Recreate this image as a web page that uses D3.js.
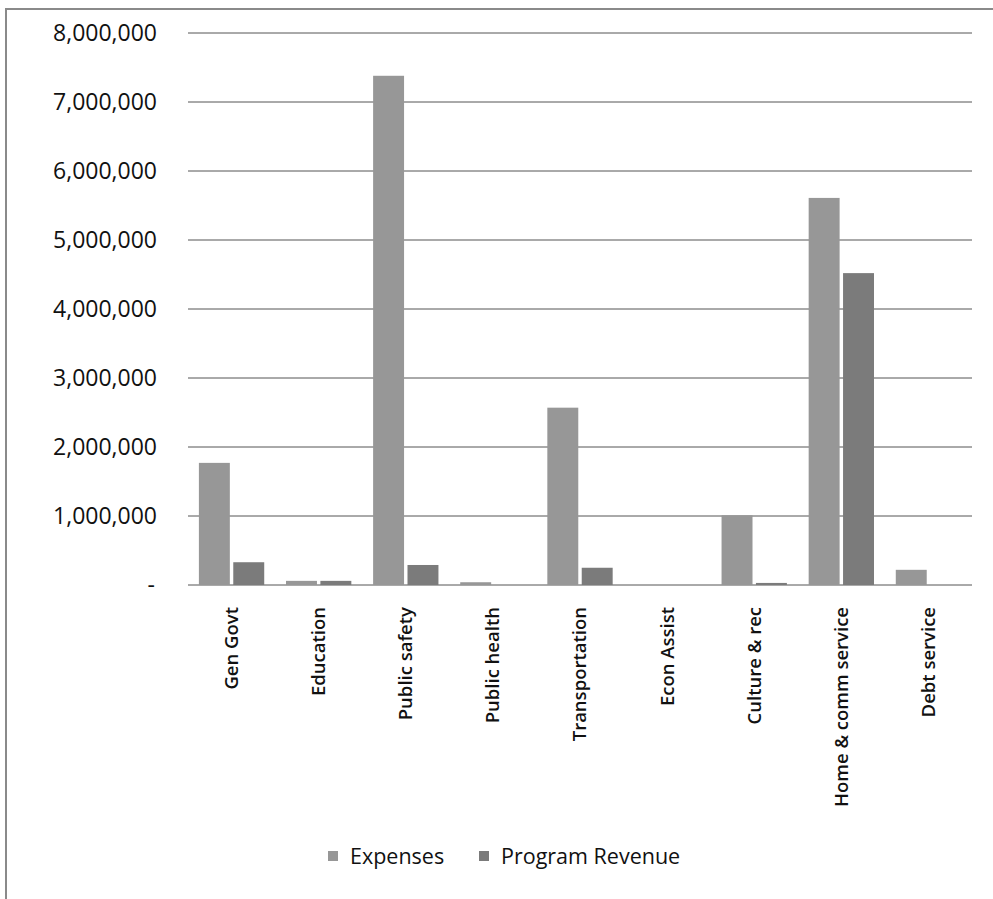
<!DOCTYPE html>
<html>
<head>
<meta charset="utf-8">
<script src="https://cdn.jsdelivr.net/npm/d3@7"></script>
<style>
  body { margin: 0; background: #fff; }
  svg { display: block; }
</style>
</head>
<body>
<div id="chart"></div>
<script>
// data
const categories = ["Gen Govt", "Education", "Public safety", "Public health", "Transportation",
                    "Econ Assist", "Culture & rec", "Home & comm service", "Debt service"];
const expenses   = [1770000, 60000, 7380000, 40000, 2570000, 0, 1010000, 5610000, 220000];
const revenue    = [330000, 60000, 290000, 0, 250000, 0, 30000, 4520000, 0];
const seriesNames = ["Expenses", "Program Revenue"];
const yTicks = [0, 1000000, 2000000, 3000000, 4000000, 5000000, 6000000, 7000000, 8000000];

const W = 993, H = 899;
const margin = {top: 33, right: 21, bottom: 314, left: 188};
const innerW = W - margin.left - margin.right;
const innerH = H - margin.top - margin.bottom;
const colors = ["#979797", "#7b7b7b"];

const svg = d3.select('#chart').append('svg')
  .attr('width', W).attr('height', H);

// frame (top + left only, like the scan)
svg.append('path')
  .attr('d', `M6,${H} L6,9 L${W},9`)
  .attr('fill', 'none')
  .attr('stroke', '#8a8a8a')
  .attr('stroke-width', 2);

const g = svg.append('g').attr('transform', `translate(${margin.left},${margin.top})`);

const x0 = d3.scaleBand().domain(categories).range([0, innerW]).paddingInner(0.25).paddingOuter(0.125);
const x1 = d3.scaleBand().domain(seriesNames).range([0, x0.bandwidth()]).paddingInner(0.1);
const y = d3.scaleLinear().domain([0, 8000000]).range([innerH, 0]);

// gridlines
g.append('g')
  .selectAll('line').data(yTicks).join('line')
    .attr('x1', 0).attr('x2', innerW)
    .attr('y1', d => y(d)).attr('y2', d => y(d))
    .attr('stroke', '#555')
    .attr('stroke-width', 1);

// y labels
const fmt = d3.format(",");
g.append('g')
  .selectAll('text').data(yTicks).join('text')
    .attr('x', d => d === 0 ? -33 : -31)
    .attr('y', d => y(d))
    .attr('dy', '0.35em')
    .attr('text-anchor', 'end')
    .attr('font-family', '"Open Sans", sans-serif')
    .attr('font-size', 23)
    .attr('fill', '#111')
    .text(d => d === 0 ? "-" : fmt(d));

// bars
const rows = categories.map((c, i) => ({cat: c, vals: [expenses[i], revenue[i]]}));
g.append('g')
  .selectAll('g').data(rows).join('g')
    .attr('transform', d => `translate(${x0(d.cat)},0)`)
  .selectAll('rect').data(d => d.vals.map((v, k) => ({key: seriesNames[k], v, k})))
  .join('rect')
    .attr('x', d => x1(d.key))
    .attr('width', x1.bandwidth())
    .attr('y', d => y(d.v))
    .attr('height', d => innerH - y(d.v))
    .attr('fill', d => colors[d.k]);

// category labels (rotated)
g.append('g')
  .selectAll('text').data(categories).join('text')
    .attr('transform', d => `translate(${x0(d) + x0.bandwidth() / 2},${innerH + 22}) rotate(-90)`)
    .attr('dy', '0.35em')
    .attr('text-anchor', 'end')
    .attr('font-family', '"Open Sans", sans-serif')
    .attr('font-weight', 600)
    .attr('font-size', 18.5)
    .attr('fill', '#111')
    .text(d => d);

// legend
const legend = svg.append('g').attr('transform', 'translate(328,856)');
const items = [{name: seriesNames[0], x: 0}, {name: seriesNames[1], x: 151}];
items.forEach((it, k) => {
  legend.append('rect')
    .attr('x', it.x).attr('y', -5)
    .attr('width', 10).attr('height', 10)
    .attr('fill', colors[k]);
  legend.append('text')
    .attr('x', it.x + 22).attr('y', 0)
    .attr('dy', '0.35em')
    .attr('font-family', '"Open Sans", sans-serif')
    .attr('font-size', 21.5)
    .attr('fill', '#111')
    .text(it.name);
});
</script>
</body>
</html>
